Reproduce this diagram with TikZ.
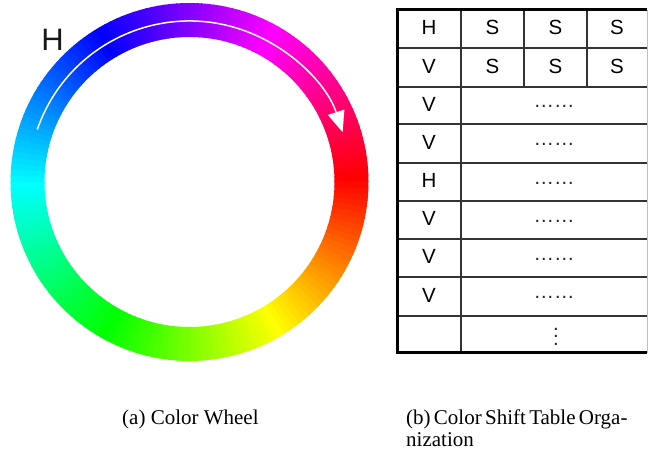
\documentclass[tikz,border=0pt]{standalone}
\usepackage{fontspec}
\setmainfont{Liberation Serif}
\newfontfamily\arial{Liberation Sans}
\usetikzlibrary{arrows.meta}
\begin{document}
\begin{tikzpicture}[x=1pt,y=1pt,
  cell/.style={font=\arial\fontsize{20.5}{24}\selectfont, text=black, inner sep=0pt},
  dotscell/.style={font=\arial\fontsize{20.5}{24}\selectfont, text=black!85, inner sep=0pt},
  grid/.style={line width=1.3pt, draw=black!80},
  frame/.style={line width=3pt, draw=black},
  caption/.style={font=\fontsize{21}{25}\selectfont, inner sep=0pt, anchor=base west}]
\useasboundingbox (0,0) rectangle (648,454);

% hue ring, red at east, hue increasing clockwise
\begin{scope}[shift={(189.5,272)}]
  \foreach \a in {0,2,...,358}{
    \pgfmathsetmacro\hue{mod(360-\a,360)}
    \definecolor{seg}{Hsb}{\hue,1,1}
    \fill[seg] (\a:145pt) arc[start angle=\a, end angle=\a+2.4, radius=145pt]
      -- (\a+2.4:179pt) arc[start angle=\a+2.4, end angle=\a, radius=179pt] -- cycle;
  }
  % direction of increasing hue
  \draw[white, line width=1.5pt, -{Triangle[length=21pt,width=17pt]}]
    (161:161pt) arc[start angle=161, end angle=18, radius=161pt];
\end{scope}
\node[font=\arial\fontsize{31}{36}\selectfont, text=black!90, inner sep=0pt] (hlabel) at (52.5,414) {H};

% table grid
\foreach \y in {406,367,330,291,253,215,177,138}
  \draw[grid] (397,\y) -- (647,\y);
\draw[grid] (461,444) -- (461,101);
\draw[grid] (524,444) -- (524,367);
\draw[grid] (587,444) -- (587,367);
\draw[black!25, line width=0.8pt] (647,444) -- (647,101);
\draw[frame] (647,444) -- (397,444) -- (397,101) -- (647,101);

% table entries
\node[cell] (h1) at (429,426.5) {H};
\node[cell] (s11) at (492.5,426.5) {S};
\node[cell] (s12) at (555.5,426.5) {S};
\node[cell] (s13) at (617,426.5) {S};
\node[cell] (v2) at (429,388) {V};
\node[cell] (s21) at (492.5,388) {S};
\node[cell] (s22) at (555.5,388) {S};
\node[cell] (s23) at (617,388) {S};
\foreach \n/\t/\y in {3/V/350, 4/V/312, 5/H/273.5, 6/V/235.5, 7/V/197.5, 8/V/159}{
  \node[cell] (k\n) at (429,\y) {\t};
  \node[dotscell] (d\n) at (554,\y-2.5) {……};
}
% vertical ellipsis in the last row
\node[dotscell] (vd) at (556,117.5)
  {\vbox{\baselineskip=7.5pt\lineskiplimit=0pt\hbox{.}\hbox{.}\hbox{.}}};

% captions
\node[caption] (capa) at (122,29) {(a) Color Wheel};
\node[caption] (capb) at (406,29) {\spaceskip=3.3pt (b) Color Shift Table Orga-};
\node[caption] (capc) at (406,7.3) {nization};
\end{tikzpicture}
\end{document}
